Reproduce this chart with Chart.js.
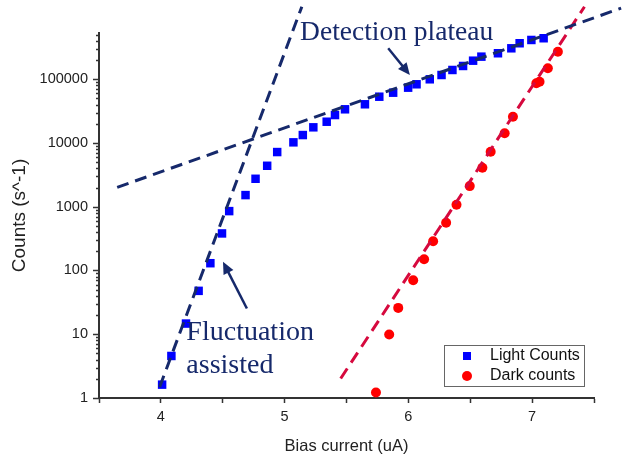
<!DOCTYPE html>
<html>
<head>
<meta charset="utf-8">
<script src="https://cdn.jsdelivr.net/npm/chart.js@4.4.0/dist/chart.umd.min.js"></script>
<style>
  html, body { margin: 0; padding: 0; background: #fff; }
</style>
</head>
<body>
<canvas id="countsChart" width="622" height="460"></canvas>
<script>
// light counts (blue squares)
const lightX = [4.01, 4.085, 4.203, 4.305, 4.40, 4.494, 4.552, 4.684, 4.765, 4.859, 4.94,
  5.071, 5.147, 5.232, 5.340, 5.407, 5.488, 5.649, 5.765, 5.877, 5.998, 6.066, 6.173,
  6.268, 6.356, 6.442, 6.523, 6.590, 6.724, 6.832, 6.899, 6.994, 7.093];
const lightY = [1.62, 4.56, 14.7, 47.9, 130, 381, 853, 1521, 2742, 4385, 7198,
  10220, 13300, 17580, 21520, 27400, 33700, 40400, 53100, 61400, 73600, 83200, 99600,
  116300, 139400, 161100, 195000, 225600, 255000, 305000, 366000, 412000, 438500];

// dark counts (red circles)
const darkX = [5.738, 5.845, 5.918, 6.039, 6.127, 6.200, 6.305, 6.389, 6.496, 6.598,
  6.665, 6.778, 6.845, 7.034, 7.060, 7.127, 7.208];
const darkY = [1.22, 9.9, 25.9, 70.4, 150, 288, 559, 1071, 2105, 4080,
  7280, 14150, 25780, 86300, 91400, 148300, 270000];

// dashed guide lines
const fluctFitX = [3.99, 5.139];
const fluctFitY = [1.49, 1370000];
const plateauFitX = [3.647, 7.719];
const plateauFitY = [2010, 1300000];
const darkFitX = [5.453, 7.423];
const darkFitY = [2.02, 1370000];

const xTicks = [4, 5, 6, 7];
const yTicks = [1, 10, 100, 1000, 10000, 100000];

const navy = '#16296b';
const pts = (xs, ys) => xs.map((x, i) => ({ x: x, y: ys[i] }));

// y minor/major tick marks, drawn outward
const yTickMarks = {
  id: 'yTickMarks',
  afterDraw(chart) {
    const { ctx, scales: { y } } = chart;
    const left = chart.chartArea.left;
    ctx.save();
    ctx.strokeStyle = '#333';
    ctx.lineWidth = 1.5;
    y.ticks.forEach(t => {
      const py = Math.round(y.getPixelForValue(t.value)) + 0.5;
      const len = yTicks.includes(t.value) ? 6 : 3;
      ctx.beginPath();
      ctx.moveTo(left - len, py);
      ctx.lineTo(left, py);
      ctx.stroke();
    });
    ctx.restore();
  }
};

function arrow(ctx, x0, y0, x1, y1) {
  const a = Math.atan2(y1 - y0, x1 - x0);
  const hl = 12, hw = 5.5;
  ctx.beginPath();
  ctx.moveTo(x0, y0);
  ctx.lineTo(x1 - Math.cos(a) * hl * 0.8, y1 - Math.sin(a) * hl * 0.8);
  ctx.stroke();
  ctx.beginPath();
  ctx.moveTo(x1, y1);
  ctx.lineTo(x1 - Math.cos(a) * hl - Math.sin(a) * hw, y1 - Math.sin(a) * hl + Math.cos(a) * hw);
  ctx.lineTo(x1 - Math.cos(a) * hl + Math.sin(a) * hw, y1 - Math.sin(a) * hl - Math.cos(a) * hw);
  ctx.closePath();
  ctx.fill();
}

const notes = {
  id: 'notes',
  afterDraw(chart) {
    const { ctx, scales: { x, y } } = chart;
    ctx.save();
    ctx.fillStyle = navy;
    ctx.strokeStyle = navy;
    ctx.lineWidth = 2.5;
    ctx.textBaseline = 'alphabetic';
    ctx.font = '27.5px "Liberation Serif"';
    ctx.fillText('Detection plateau', x.getPixelForValue(5.125), y.getPixelForValue(412000));
    ctx.font = '28px "Liberation Serif"';
    ctx.fillText('Fluctuation', x.getPixelForValue(4.206), y.getPixelForValue(8.05));
    ctx.fillText('assisted', x.getPixelForValue(4.206), y.getPixelForValue(2.47));
    arrow(ctx, x.getPixelForValue(5.837), y.getPixelForValue(305600),
      x.getPixelForValue(6.012), y.getPixelForValue(116400));
    arrow(ctx, x.getPixelForValue(4.695), y.getPixelForValue(25.3),
      x.getPixelForValue(4.502), y.getPixelForValue(136.5));

    // legend box
    const ca = chart.chartArea;
    const bx = ca.right - 150, by = ca.bottom - 53, bw = 140, bh = 41;
    ctx.fillStyle = '#fff';
    ctx.fillRect(bx, by, bw, bh);
    ctx.strokeStyle = '#666';
    ctx.lineWidth = 1;
    ctx.strokeRect(bx + 0.5, by + 0.5, bw, bh);
    ctx.fillStyle = '#0000ff';
    ctx.fillRect(bx + 19, by + 7, 8, 8);
    ctx.fillStyle = '#ff0000';
    ctx.beginPath();
    ctx.arc(bx + 23, by + 31, 5, 0, Math.PI * 2);
    ctx.fill();
    ctx.fillStyle = '#111';
    ctx.font = '16px "Liberation Sans"';
    ctx.textBaseline = 'middle';
    ctx.fillText('Light Counts', bx + 46, by + 11);
    ctx.fillText('Dark counts', bx + 46, by + 31);
    ctx.restore();
  }
};

const ctx = document.getElementById('countsChart');
new Chart(ctx, {
  type: 'scatter',
  data: {
    datasets: [
      { label: 'Light Counts', data: pts(lightX, lightY), pointStyle: 'rect', pointRadius: 6,
        backgroundColor: '#0000ff', borderWidth: 0, order: 2 },
      { label: 'Dark counts', data: pts(darkX, darkY), pointStyle: 'circle', pointRadius: 5,
        backgroundColor: '#ff0000', borderWidth: 0, order: 2 },
      { type: 'line', label: 'fluct fit', data: pts(fluctFitX, fluctFitY), borderColor: navy,
        borderWidth: 3, borderDash: [12, 7], pointRadius: 0, clip: false, order: 1 },
      { type: 'line', label: 'plateau fit', data: pts(plateauFitX, plateauFitY), borderColor: navy,
        borderWidth: 3, borderDash: [12, 7], pointRadius: 0, clip: false, order: 1 },
      { type: 'line', label: 'dark fit', data: pts(darkFitX, darkFitY), borderColor: '#d6093e',
        borderWidth: 3, borderDash: [12, 7], pointRadius: 0, clip: false, order: 1 }
    ]
  },
  options: {
    responsive: false,
    animation: false,
    layout: { padding: { top: 33, right: 28, left: 0, bottom: 0 } },
    plugins: { legend: { display: false }, tooltip: { enabled: false } },
    scales: {
      x: {
        type: 'linear', min: 3.5, max: 7.5,
        afterBuildTicks: s => {
          const t = [];
          for (let v = 3.5; v <= 7.5; v += 0.5) t.push({ value: v });
          s.ticks = t;
        },
        afterFit: s => { s.height = 62; },
        ticks: {
          callback: v => xTicks.includes(v) ? String(v) : '',
          autoSkip: false, maxRotation: 0, padding: 5, color: '#222',
          font: { family: 'Liberation Sans', size: 14.5 }
        },
        grid: { drawOnChartArea: false, drawTicks: true, tickLength: 5, tickColor: '#333', tickWidth: 1.5 },
        border: { display: true, color: '#333', width: 2 },
        title: { display: true, text: 'Bias current (uA)', color: '#222',
          font: { family: 'Liberation Sans', size: 16.5 }, padding: { top: 4, bottom: 4 } }
      },
      y: {
        type: 'logarithmic', min: 1, max: 530000,
        afterBuildTicks: s => {
          const t = [];
          for (let d = 1; d <= 100000; d *= 10) {
            for (let m = 1; m <= 9; m++) {
              if (m * d <= 530000) t.push({ value: m * d, major: m === 1 });
            }
          }
          s.ticks = t;
        },
        afterFit: s => { s.width = 99; },
        ticks: {
          callback: v => yTicks.includes(v) ? String(v) : '',
          autoSkip: false, padding: 11, color: '#222',
          font: { family: 'Liberation Sans', size: 14.5 }
        },
        grid: { drawOnChartArea: false, drawTicks: false },
        border: { display: true, color: '#333', width: 2 },
        title: { display: true, text: 'Counts (s^-1)', color: '#222',
          font: { family: 'Liberation Sans', size: 19 }, padding: { top: 8, bottom: 0 } }
      }
    }
  },
  plugins: [yTickMarks, notes]
});
</script>
</body>
</html>
